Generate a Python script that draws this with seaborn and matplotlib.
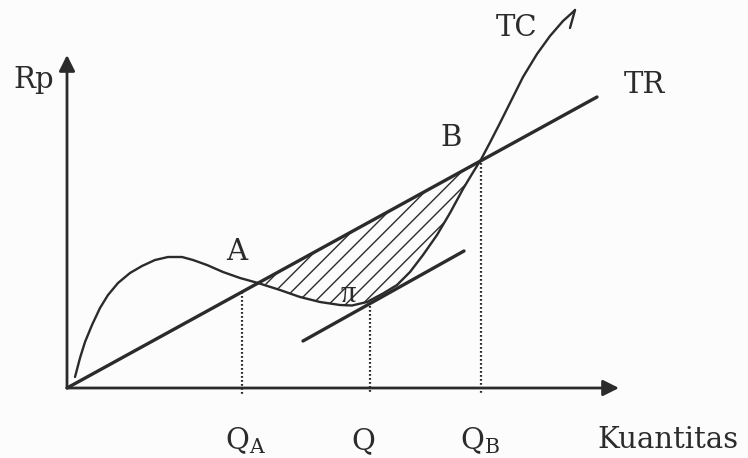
import matplotlib
matplotlib.use("Agg")
import matplotlib.pyplot as plt
import seaborn as sns
from matplotlib.patches import Polygon

sns.set_style("white")
plt.rcParams["font.family"] = ["DejaVu Serif"]
plt.rcParams["mathtext.fontset"] = "dejavuserif"
plt.rcParams["hatch.linewidth"] = 1.0

INK = "#2b2b2b"
BG = "#fcfcfd"

# ---- data (Quantity, Rp) ----
tr_q = [0.0, 53.0]
tr_rp = [0.0, 29.1]

tc_q = [0.8, 1.3, 1.8, 2.5, 3.3, 4.1, 5.1, 6.3, 7.5, 8.8, 10.1, 11.5, 12.6,
        14.0, 15.6, 17.3, 19.1, 21.3, 23.3, 25.3, 27.3, 28.5, 30.0, 31.6,
        33.0, 34.3, 35.6, 37.0, 38.3, 39.6, 40.5, 41.4, 42.3, 43.3, 44.3,
        45.6, 47.0, 48.3, 49.6, 50.6, 50.8]
tc_rp = [1.1, 3.0, 4.6, 6.3, 8.0, 9.3, 10.5, 11.5, 12.2, 12.8, 13.1, 13.1,
         12.8, 12.3, 11.6, 11.0, 10.5, 9.8, 9.1, 8.6, 8.3, 8.25, 8.6, 9.45,
         10.3, 11.6, 13.3, 15.3, 17.5, 19.9, 21.4, 22.85, 24.55, 26.5, 28.5,
         31.1, 33.4, 35.2, 36.7, 37.6, 37.8]
tc_hook_q = [50.8, 50.3]
tc_hook_rp = [37.8, 36.0]

tan_q = [23.6, 39.7]
tan_rp = [4.7, 13.7]

# points A, QA, Q (tangency), B
q_a, rp_a = 19.1, 10.5
q_qa, rp_qa = 17.5, 9.6
q_m, rp_m = 30.3, 8.6
q_b, rp_b = 41.4, 22.85

x_axis_end = 55.2
y_axis_end = 33.3

fig = plt.figure(figsize=(7.48, 4.58), dpi=100)
fig.patch.set_facecolor(BG)
ax = fig.add_axes([0, 0, 1, 1])
ax.set_facecolor(BG)
ax.set_xlim(-6.7, 68.1)
ax.set_ylim(-7.0, 38.8)
ax.axis("off")

# hatched profit area between TC and TR from A to B
seg = [(q, r) for q, r in zip(tc_q, tc_rp) if q_a <= q <= q_b]
poly = Polygon(seg, closed=True, facecolor="none", edgecolor=INK,
               linewidth=0, hatch="//")
ax.add_patch(poly)

# curves
sns.lineplot(x=tr_q, y=tr_rp, ax=ax, color=INK, lw=2.4, sort=False)
sns.lineplot(x=tc_q, y=tc_rp, ax=ax, color=INK, lw=1.7, sort=False)
sns.lineplot(x=tc_hook_q, y=tc_hook_rp, ax=ax, color=INK, lw=1.7, sort=False)
sns.lineplot(x=tan_q, y=tan_rp, ax=ax, color=INK, lw=2.4, sort=False)

# dotted drop lines
for q, top in [(q_qa, rp_qa), (q_m, rp_m), (q_b, rp_b)]:
    ax.plot([q, q], [top, -0.6], color=INK, lw=1.6, linestyle=(0, (0.8, 1.0)))

# axes with arrows
arrow_kw = dict(arrowstyle="-|>", mutation_scale=24, lw=2.0, color=INK,
                shrinkA=0, shrinkB=0)
ax.annotate("", xy=(0, y_axis_end), xytext=(0, 0), arrowprops=arrow_kw)
ax.annotate("", xy=(x_axis_end, 0), xytext=(0, 0), arrowprops=arrow_kw)

# labels
fs = 21
tk = dict(color=INK, fontsize=fs, ha="center", va="center")
ax.text(-3.3, 30.8, "Rp", **tk)
ax.text(45.0, 36.0, "TC", **tk)
ax.text(57.7, 30.3, "TR", **tk)
ax.text(38.4, 25.0, "B", **tk)
ax.text(17.0, 13.6, "A", **tk)
ax.text(28.1, 9.4, "π", color=INK, fontsize=22, ha="center", va="center",
        family=["Liberation Serif", "DejaVu Serif"])
ax.text(17.9, -5.3, r"Q$_{\mathrm{A}}$", **tk)
ax.text(29.6, -5.3, "Q", **tk)
ax.text(41.3, -5.3, r"Q$_{\mathrm{B}}$", **tk)
ax.text(60.1, -5.2, "Kuantitas", **tk)

fig.savefig("out.png", dpi=100, facecolor=fig.get_facecolor())
